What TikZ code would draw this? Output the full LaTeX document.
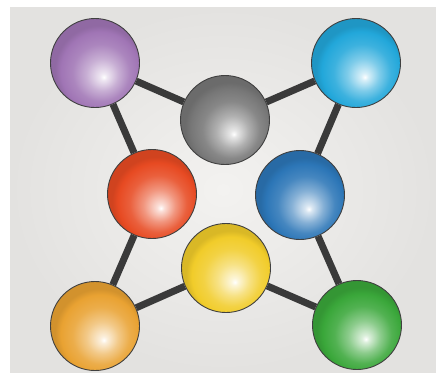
\documentclass[tikz,border=0pt]{standalone}
\usetikzlibrary{backgrounds}
\definecolor{ballc}{HTML}{999999}
\definecolor{cpurple}{HTML}{A075B5}
\definecolor{cgray}{HTML}{777777}
\definecolor{ccyan}{HTML}{22A7DA}
\definecolor{cred}{HTML}{E74A22}
\definecolor{cblue}{HTML}{2C76B7}
\definecolor{cyellow}{HTML}{F1CC2A}
\definecolor{corange}{HTML}{E9A232}
\definecolor{cgreen}{HTML}{3AA73A}
\definecolor{barc}{HTML}{3A3A3A}
\definecolor{paperin}{HTML}{F3F2F0}
\definecolor{paperout}{HTML}{E3E2E0}
% the middle 50bp square of a shading is fitted to the path: rim = 25bp
\pgfdeclareradialshading[ballc]{myball}{\pgfqpoint{5bp}{-8bp}}{%
  color(0bp)=(white);
  color(2bp)=(ballc!18!white);
  color(9bp)=(ballc!58!white);
  color(16bp)=(ballc!88!white);
  color(22bp)=(ballc);
  color(25bp)=(ballc!90!black);
  color(50bp)=(ballc!90!black)}
\tikzset{
  ballnode/.style={circle, minimum size=89pt, inner sep=0pt, shading=myball, draw=black!75, line width=0.9pt},
  bar/.style={draw=barc, line width=7pt}
}
\newcommand{\myball}[3]{\colorlet{ballc}{#2}\node[ballnode] (#1) at (#3) {};}
\begin{document}
\begin{tikzpicture}[x=1pt,y=-1pt]
\useasboundingbox (0,0) rectangle (436,376);
\myball{purple}{cpurple}{95,63}
\myball{gray}{cgray}{225,120}
\myball{cyan}{ccyan}{356,63}
\myball{red}{cred}{152,194}
\myball{blue}{cblue}{300,195}
\myball{yellow}{cyellow}{226,268}
\myball{orange}{corange}{95,326}
\myball{green}{cgreen}{357,325}
\begin{scope}[on background layer]
  \fill[white] (0,0) rectangle (436,376);
  \shade[inner color=paperin, outer color=paperout] (10,7) rectangle (436,372);
  \draw[bar] (purple) -- (gray);
  \draw[bar] (gray) -- (cyan);
  \draw[bar] (purple) -- (red);
  \draw[bar] (cyan) -- (blue);
  \draw[bar] (red) -- (orange);
  \draw[bar] (blue) -- (green);
  \draw[bar] (orange) -- (yellow);
  \draw[bar] (yellow) -- (green);
\end{scope}
\end{tikzpicture}
\end{document}
